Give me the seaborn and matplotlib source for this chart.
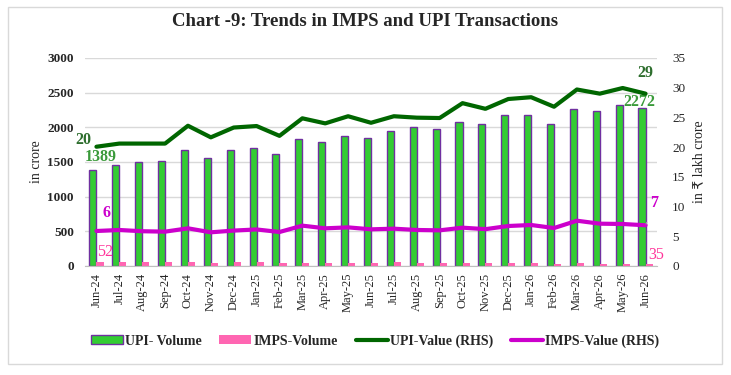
import numpy as np
import pandas as pd
import matplotlib
matplotlib.use("Agg")
import matplotlib.pyplot as plt
from matplotlib.patches import Rectangle, Patch
from matplotlib.lines import Line2D
import seaborn as sns

months = ["Jun-24", "Jul-24", "Aug-24", "Sep-24", "Oct-24", "Nov-24", "Dec-24",
          "Jan-25", "Feb-25", "Mar-25", "Apr-25", "May-25", "Jun-25", "Jul-25",
          "Aug-25", "Sep-25", "Oct-25", "Nov-25", "Dec-25", "Jan-26", "Feb-26",
          "Mar-26", "Apr-26", "May-26", "Jun-26"]
upi_volume = [1389, 1452, 1495, 1510, 1668, 1553, 1668, 1697, 1611, 1827, 1784, 1870,
              1842, 1947, 2000, 1971, 2072, 2044, 2173, 2173, 2044, 2264, 2231, 2318, 2272]
imps_volume = [52, 53, 52, 52, 54, 38, 52, 52, 42, 50, 50, 50,
               50, 52, 50, 38, 38, 37, 38, 37, 36, 37, 36, 36, 35]
upi_value = [20.07, 20.6, 20.6, 20.6, 23.6, 21.65, 23.3, 23.55, 21.9, 24.85, 24.0, 25.2,
             24.1, 25.2, 24.96, 24.9, 27.4, 26.45, 28.1, 28.4, 26.8, 29.7, 29.0, 29.95, 29.0]
imps_value = [5.89, 6.06, 5.85, 5.78, 6.34, 5.67, 5.96, 6.15, 5.72, 6.79, 6.34, 6.5,
              6.17, 6.28, 6.06, 6.0, 6.45, 6.2, 6.73, 6.9, 6.39, 7.62, 7.12, 7.07, 6.85]

serif = ["Liberation Serif", "DejaVu Sans"]
sns.set_style("white")
plt.rcParams["font.family"] = serif

c_upi_bar = "#33CC33"
c_edge = "#7030A0"
c_imps_bar = "#FF66B2"
c_upi_line = "#006600"
c_imps_line = "#CC00CC"

fig = plt.figure(figsize=(7.31, 3.75), dpi=100)
ax = fig.add_axes([85 / 731, 1 - 266 / 375, (657 - 85) / 731, (266 - 58) / 375])

df = pd.DataFrame({
    "month": months * 2,
    "value": upi_volume + imps_volume,
    "series": ["UPI- Volume"] * len(months) + ["IMPS-Volume"] * len(months),
})
sns.barplot(data=df, x="month", y="value", hue="series", ax=ax,
            palette=[c_upi_bar, c_imps_bar], width=0.62, gap=0,
            legend=False, saturation=1, zorder=2)
n = len(months)
for i, p in enumerate(ax.patches[:2 * n]):
    if i < n:
        p.set_edgecolor(c_edge)
        p.set_linewidth(1)
    else:
        p.set_edgecolor("none")

ax.set_ylim(0, 3000)
ax.set_xlim(-0.5, n - 0.5)
ax.set_yticks(np.arange(0, 3001, 500))
ax.yaxis.grid(True, color="#d9d9d9", linewidth=1)
ax.set_axisbelow(True)
for s in ["top", "right", "left"]:
    ax.spines[s].set_visible(False)
ax.spines["bottom"].set_color("#bfbfbf")
ax.set_xlabel("")
ax.set_ylabel("in crore", fontsize=10, labelpad=3)
ax.tick_params(axis="y", length=0, labelsize=9.5, pad=8)
for t in ax.get_yticklabels():
    t.set_fontweight("bold")
ax.tick_params(axis="x", which="major", length=0, labelsize=9, rotation=90, pad=5)
ax.set_xticks(np.arange(-0.5, n, 1), minor=True)
ax.tick_params(axis="x", which="minor", length=4, color="#bfbfbf")

ax2 = ax.twinx()
x = np.arange(n)
sns.lineplot(x=x, y=upi_value, ax=ax2, color=c_upi_line, linewidth=3, zorder=3)
sns.lineplot(x=x, y=imps_value, ax=ax2, color=c_imps_line, linewidth=3, zorder=3)
ax2.set_ylim(0, 35)
ax2.set_yticks(np.arange(0, 36, 5))
ax2.set_xlim(-0.5, n - 0.5)
for s in ["top", "right", "left", "bottom"]:
    ax2.spines[s].set_visible(False)
ax2.tick_params(axis="y", length=0, labelsize=9.5, pad=11)
ax2.set_ylabel("in ₹ lakh crore", fontsize=10, labelpad=5)
ax2.grid(False)

w = 0.31
lab = dict(textcoords="offset pixels", ha="center", va="center",
           fontsize=11.5, fontweight="bold")
ax2.annotate(f"{upi_value[0]:.0f}", (0, upi_value[0]), xytext=(-13, 7),
             color="#2E6E2E", **lab)
ax2.annotate(f"{upi_value[-1]:.0f}", (n - 1, upi_value[-1]), xytext=(0, 21),
             color="#2E6E2E", **lab)
ax2.annotate(f"{imps_value[0]:.0f}", (0, imps_value[0]), xytext=(10, 18),
             color=c_imps_line, **lab)
ax2.annotate(f"{imps_value[-1]:.0f}", (n - 1, imps_value[-1]), xytext=(9, 22),
             color=c_imps_line,
             arrowprops=dict(arrowstyle="-", color="#a6a6a6", lw=0.8,
                             shrinkA=6, shrinkB=1), **lab)
ax.annotate(f"{upi_volume[0]}", (0 - w / 2, upi_volume[0]), xytext=(8, 13),
            color="#3A9A3A", **lab)
ax.annotate(f"{upi_volume[-1]}", (n - 1 - w / 2, upi_volume[-1]), xytext=(-3, 6),
            color="#3A9A3A", **lab)
ax.annotate(f"{imps_volume[0]}", (0 + w / 2, imps_volume[0]), xytext=(5, 10),
            color="#FF3399", fontsize=11.5, textcoords="offset pixels",
            ha="center", va="center")
ax.annotate(f"{imps_volume[-1]}", (n - 1 + w / 2, imps_volume[-1]), xytext=(7, 9),
            color="#FF3399", fontsize=11.5, textcoords="offset pixels",
            ha="center", va="center")

fig.text(0.5, 1 - 22 / 375, "Chart -9: Trends in IMPS and UPI Transactions",
         ha="center", va="center", fontsize=13.5, fontweight="bold")

handles = [
    Patch(facecolor=c_upi_bar, edgecolor=c_edge, linewidth=1),
    Patch(facecolor=c_imps_bar, edgecolor="none"),
    Line2D([], [], color=c_upi_line, linewidth=3),
    Line2D([], [], color=c_imps_line, linewidth=3),
]
labels = ["UPI- Volume", "IMPS-Volume", "UPI-Value (RHS)", "IMPS-Value (RHS)"]
fig.legend(handles, labels, loc="center", bbox_to_anchor=(375 / 731, 1 - 341 / 375),
           ncol=4, frameon=False, handlelength=2.3, handleheight=0.55,
           handletextpad=0.15, columnspacing=1.3,
           prop={"family": serif, "weight": "bold", "size": 10})

fig.patches.append(Rectangle((8 / 731, 1 - 364 / 375), (722 - 8) / 731, (364 - 7) / 375,
                             transform=fig.transFigure, fill=False,
                             edgecolor="#d9d9d9", linewidth=1))

fig.savefig("out.png", dpi=100)
